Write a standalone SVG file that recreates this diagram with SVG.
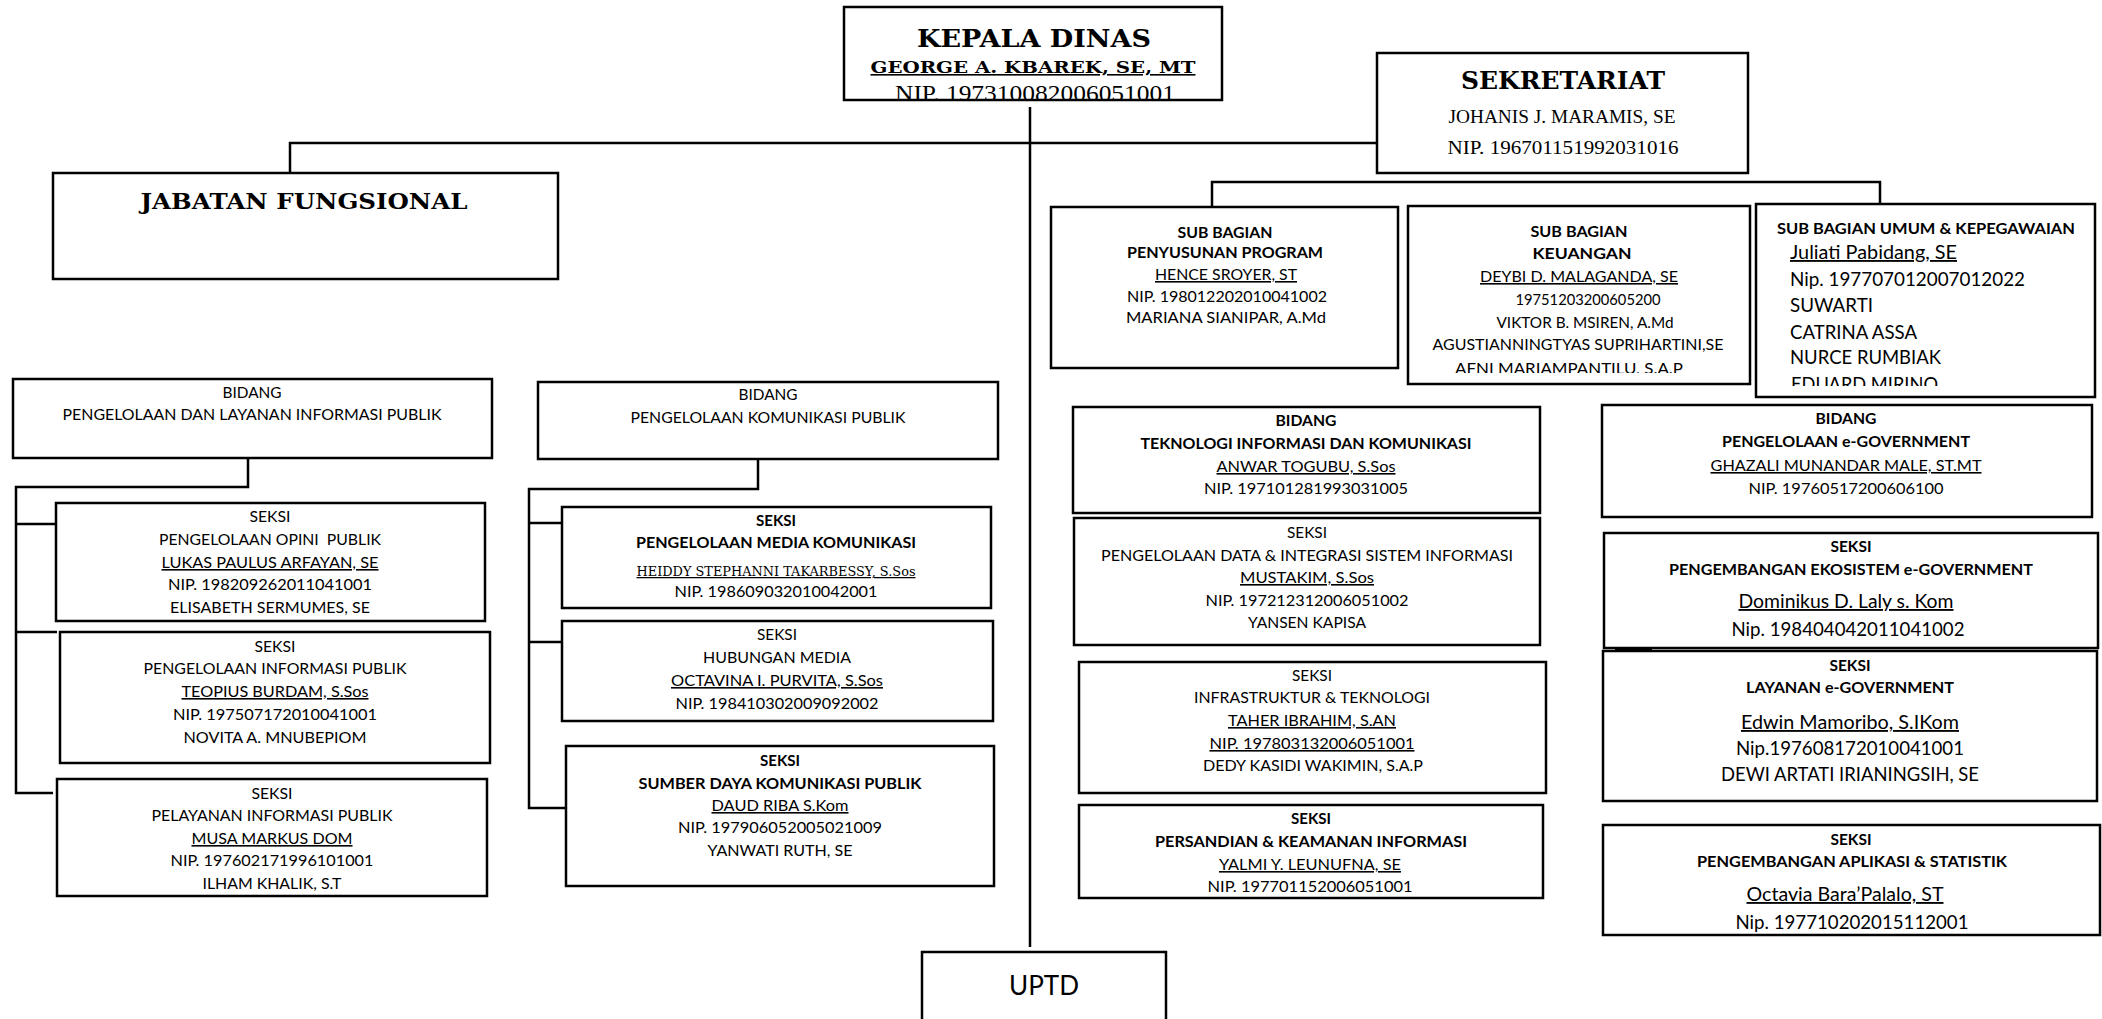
<svg xmlns="http://www.w3.org/2000/svg" width="2102" height="1019" viewBox="0 0 2102 1019">
<style>
.bx{fill:#fff;stroke:#000;stroke-width:2.5}
.ln{fill:none;stroke:#000;stroke-width:2.5}
text{fill:#000}
.t{font-family:Lato,"Open Sans","Liberation Sans",sans-serif;font-size:16px;text-anchor:middle}
.tl{font-family:Lato,"Open Sans","Liberation Sans",sans-serif;font-size:18.5px;text-anchor:start}
.t.big{font-size:18.5px}
.t.huge{font-size:26px}
.tl.small{font-size:16px}
.b{font-weight:bold}
.u{text-decoration:underline}
.sb{font-family:"DejaVu Serif","Liberation Serif",serif;font-weight:bold;text-anchor:middle}
.sr{font-family:"Liberation Serif","DejaVu Serif",serif;text-anchor:middle}
.hd{font-family:"DejaVu Serif","Liberation Serif",serif;font-size:12.5px;text-anchor:middle}
</style>
<defs>
<clipPath id="cpK"><rect x="844" y="8" width="378" height="92"/></clipPath>
<clipPath id="cpKeu"><rect x="1409" y="207" width="340" height="166"/></clipPath>
<clipPath id="cpUm"><rect x="1757" y="205" width="337" height="181"/></clipPath>
</defs>
<rect width="2102" height="1019" fill="#fff"/>

<g id="connectors">
<polyline class="ln" points="290,173 290,143 1378,143"/>
<line class="ln" x1="1030" y1="107" x2="1030" y2="947"/>
<polyline class="ln" points="1212,207 1212,182 1880,182 1880,204"/>
<polyline class="ln" points="248,458 248,487 16,487 16,793 53,793"/>
<line class="ln" x1="16" y1="524" x2="57" y2="524"/>
<line class="ln" x1="16" y1="632" x2="57" y2="632"/>
<polyline class="ln" points="758,459 758,489 529,489 529,808 566,808"/>
<line class="ln" x1="529" y1="523" x2="562" y2="523"/>
<line class="ln" x1="529" y1="642" x2="562" y2="642"/>
<line x1="1615" y1="650" x2="1652" y2="650" stroke="#000" stroke-width="3.5"/>
</g>

<g id="kepala-dinas">
<rect class="bx" x="844" y="7" width="378" height="93"/>
<text class="sb" x="1034" y="47" font-size="24" textLength="234" lengthAdjust="spacingAndGlyphs">KEPALA DINAS</text>
<text class="sb u" x="1033" y="73" font-size="16" textLength="325" lengthAdjust="spacingAndGlyphs">GEORGE A. KBAREK, SE, MT</text>
<text class="sr" x="1035" y="101" font-size="24" textLength="280" lengthAdjust="spacingAndGlyphs" clip-path="url(#cpK)">NIP. 197310082006051001</text>
</g>

<g id="sekretariat">
<rect class="bx" x="1377" y="53" width="371" height="120"/>
<text class="sb" x="1563" y="89" font-size="25" textLength="204" lengthAdjust="spacingAndGlyphs">SEKRETARIAT</text>
<text class="sr" x="1562" y="123" font-size="19" textLength="227" lengthAdjust="spacingAndGlyphs">JOHANIS J. MARAMIS, SE</text>
<text class="sr" x="1563" y="154" font-size="19" textLength="231" lengthAdjust="spacingAndGlyphs">NIP. 196701151992031016</text>
</g>

<g id="jabatan-fungsional">
<rect class="bx" x="53" y="173" width="505" height="106"/>
<text class="sb" x="304" y="209" font-size="23" textLength="327" lengthAdjust="spacingAndGlyphs">JABATAN FUNGSIONAL</text>
</g>

<g id="sub-penyusunan">
<rect class="bx" x="1051" y="207" width="347" height="161"/>
<text class="t b" x="1225" y="238" textLength="95" lengthAdjust="spacingAndGlyphs">SUB BAGIAN</text>
<text class="t b" x="1225" y="258" textLength="196" lengthAdjust="spacingAndGlyphs">PENYUSUNAN PROGRAM</text>
<text class="t u" x="1226" y="280" textLength="142" lengthAdjust="spacingAndGlyphs">HENCE SROYER, ST</text>
<text class="t" x="1227" y="302" textLength="200" lengthAdjust="spacingAndGlyphs">NIP. 198012202010041002</text>
<text class="t" x="1226" y="323" textLength="200" lengthAdjust="spacingAndGlyphs">MARIANA SIANIPAR, A.Md</text>
</g>

<g id="sub-keuangan">
<rect class="bx" x="1408" y="206" width="342" height="178"/>
<g clip-path="url(#cpKeu)">
<text class="t b" x="1579" y="237" textLength="97" lengthAdjust="spacingAndGlyphs">SUB BAGIAN</text>
<text class="t b" x="1582" y="259" textLength="99" lengthAdjust="spacingAndGlyphs">KEUANGAN</text>
<text class="t u" x="1579" y="282" textLength="198" lengthAdjust="spacingAndGlyphs">DEYBI D. MALAGANDA, SE</text>
<text class="t" x="1588" y="305" textLength="145" lengthAdjust="spacingAndGlyphs">19751203200605200</text>
<text class="t" x="1585" y="328" textLength="177" lengthAdjust="spacingAndGlyphs">VIKTOR B. MSIREN, A.Md</text>
<text class="t" x="1578" y="350" textLength="291" lengthAdjust="spacingAndGlyphs">AGUSTIANNINGTYAS SUPRIHARTINI,SE</text>
<text class="t" x="1569" y="374" textLength="228" lengthAdjust="spacingAndGlyphs">AFNI MARIAMPANTILU, S.A.P</text>
</g>
</g>

<g id="sub-umum">
<rect class="bx" x="1756" y="204" width="339" height="193"/>
<text class="tl small b" x="1777" y="234" textLength="298" lengthAdjust="spacingAndGlyphs">SUB BAGIAN UMUM &amp; KEPEGAWAIAN</text>
<g clip-path="url(#cpUm)">
<text class="tl u" x="1790" y="259" textLength="167" lengthAdjust="spacingAndGlyphs">Juliati Pabidang, SE</text>
<text class="tl" x="1790" y="286" textLength="235" lengthAdjust="spacingAndGlyphs">Nip. 197707012007012022</text>
<text class="tl" x="1790" y="312" textLength="83" lengthAdjust="spacingAndGlyphs">SUWARTI</text>
<text class="tl" x="1790" y="339" textLength="127" lengthAdjust="spacingAndGlyphs">CATRINA ASSA</text>
<text class="tl" x="1790" y="364" textLength="151" lengthAdjust="spacingAndGlyphs">NURCE RUMBIAK</text>
<text class="tl" x="1791" y="391" textLength="147" lengthAdjust="spacingAndGlyphs">EDUARD MIRINO</text>
</g>
</g>

<g id="bidang-plip">
<rect class="bx" x="13" y="379" width="479" height="79"/>
<text class="t" x="252" y="398" textLength="59" lengthAdjust="spacingAndGlyphs">BIDANG</text>
<text class="t" x="252" y="420" textLength="379" lengthAdjust="spacingAndGlyphs">PENGELOLAAN DAN LAYANAN INFORMASI PUBLIK</text>
</g>

<g id="seksi-opini">
<rect class="bx" x="56" y="503" width="429" height="118"/>
<text class="t" x="270" y="522" textLength="41" lengthAdjust="spacingAndGlyphs">SEKSI</text>
<text class="t" x="270" y="545" textLength="222" lengthAdjust="spacingAndGlyphs" xml:space="preserve">PENGELOLAAN OPINI  PUBLIK</text>
<text class="t u" x="270" y="568" textLength="217" lengthAdjust="spacingAndGlyphs">LUKAS PAULUS ARFAYAN, SE</text>
<text class="t" x="270" y="590" textLength="204" lengthAdjust="spacingAndGlyphs">NIP. 198209262011041001</text>
<text class="t" x="270" y="613" textLength="200" lengthAdjust="spacingAndGlyphs">ELISABETH SERMUMES, SE</text>
</g>

<g id="seksi-informasi">
<rect class="bx" x="60" y="632" width="430" height="131"/>
<text class="t" x="275" y="652" textLength="41" lengthAdjust="spacingAndGlyphs">SEKSI</text>
<text class="t" x="275" y="674" textLength="263" lengthAdjust="spacingAndGlyphs">PENGELOLAAN INFORMASI PUBLIK</text>
<text class="t u" x="275" y="697" textLength="187" lengthAdjust="spacingAndGlyphs">TEOPIUS BURDAM, S.Sos</text>
<text class="t" x="275" y="720" textLength="204" lengthAdjust="spacingAndGlyphs">NIP. 197507172010041001</text>
<text class="t" x="275" y="743" textLength="183" lengthAdjust="spacingAndGlyphs">NOVITA A. MNUBEPIOM</text>
</g>

<g id="seksi-pelayanan">
<rect class="bx" x="57" y="779" width="430" height="117"/>
<text class="t" x="272" y="799" textLength="41" lengthAdjust="spacingAndGlyphs">SEKSI</text>
<text class="t" x="272" y="821" textLength="241" lengthAdjust="spacingAndGlyphs">PELAYANAN INFORMASI PUBLIK</text>
<text class="t u" x="272" y="844" textLength="161" lengthAdjust="spacingAndGlyphs">MUSA MARKUS DOM</text>
<text class="t" x="272" y="866" textLength="203" lengthAdjust="spacingAndGlyphs">NIP. 197602171996101001</text>
<text class="t" x="272" y="889" textLength="139" lengthAdjust="spacingAndGlyphs">ILHAM KHALIK, S.T</text>
</g>

<g id="bidang-pkp">
<rect class="bx" x="538" y="382" width="460" height="77"/>
<text class="t" x="768" y="400" textLength="59" lengthAdjust="spacingAndGlyphs">BIDANG</text>
<text class="t" x="768" y="423" textLength="275" lengthAdjust="spacingAndGlyphs">PENGELOLAAN KOMUNIKASI PUBLIK</text>
</g>

<g id="seksi-media-komunikasi">
<rect class="bx" x="562" y="507" width="429" height="101"/>
<text class="t b" x="776" y="526" textLength="40" lengthAdjust="spacingAndGlyphs">SEKSI</text>
<text class="t b" x="776" y="548" textLength="280" lengthAdjust="spacingAndGlyphs">PENGELOLAAN MEDIA KOMUNIKASI</text>
<text class="hd u" x="776" y="576" textLength="279" lengthAdjust="spacingAndGlyphs">HEIDDY STEPHANNI TAKARBESSY, S.Sos</text>
<text class="t" x="776" y="597" textLength="203" lengthAdjust="spacingAndGlyphs">NIP. 198609032010042001</text>
</g>

<g id="seksi-hubungan-media">
<rect class="bx" x="562" y="621" width="431" height="100"/>
<text class="t" x="777" y="640" textLength="40" lengthAdjust="spacingAndGlyphs">SEKSI</text>
<text class="t" x="777" y="663" textLength="148" lengthAdjust="spacingAndGlyphs">HUBUNGAN MEDIA</text>
<text class="t u" x="777" y="686" textLength="212" lengthAdjust="spacingAndGlyphs">OCTAVINA I. PURVITA, S.Sos</text>
<text class="t" x="777" y="709" textLength="203" lengthAdjust="spacingAndGlyphs">NIP. 198410302009092002</text>
</g>

<g id="seksi-sumber-daya">
<rect class="bx" x="566" y="746" width="428" height="140"/>
<text class="t b" x="780" y="766" textLength="40" lengthAdjust="spacingAndGlyphs">SEKSI</text>
<text class="t b" x="780" y="789" textLength="283" lengthAdjust="spacingAndGlyphs">SUMBER DAYA KOMUNIKASI PUBLIK</text>
<text class="t u" x="780" y="811" textLength="137" lengthAdjust="spacingAndGlyphs">DAUD RIBA S.Kom</text>
<text class="t" x="780" y="833" textLength="204" lengthAdjust="spacingAndGlyphs">NIP. 197906052005021009</text>
<text class="t" x="780" y="856" textLength="145" lengthAdjust="spacingAndGlyphs">YANWATI RUTH, SE</text>
</g>

<g id="bidang-tik">
<rect class="bx" x="1073" y="407" width="467" height="106"/>
<text class="t b" x="1306" y="426" textLength="61" lengthAdjust="spacingAndGlyphs">BIDANG</text>
<text class="t b" x="1306" y="449" textLength="331" lengthAdjust="spacingAndGlyphs">TEKNOLOGI INFORMASI DAN KOMUNIKASI</text>
<text class="t u" x="1306" y="472" textLength="179" lengthAdjust="spacingAndGlyphs">ANWAR TOGUBU, S.Sos</text>
<text class="t" x="1306" y="494" textLength="204" lengthAdjust="spacingAndGlyphs">NIP. 197101281993031005</text>
</g>

<g id="seksi-data">
<rect class="bx" x="1074" y="518" width="466" height="127"/>
<text class="t" x="1307" y="538" textLength="40" lengthAdjust="spacingAndGlyphs">SEKSI</text>
<text class="t" x="1307" y="561" textLength="412" lengthAdjust="spacingAndGlyphs">PENGELOLAAN DATA &amp; INTEGRASI SISTEM INFORMASI</text>
<text class="t u" x="1307" y="583" textLength="134" lengthAdjust="spacingAndGlyphs">MUSTAKIM, S.Sos</text>
<text class="t" x="1307" y="606" textLength="203" lengthAdjust="spacingAndGlyphs">NIP. 197212312006051002</text>
<text class="t" x="1307" y="628" textLength="118" lengthAdjust="spacingAndGlyphs">YANSEN KAPISA</text>
</g>

<g id="seksi-infrastruktur">
<rect class="bx" x="1079" y="662" width="467" height="131"/>
<text class="t" x="1312" y="681" textLength="40" lengthAdjust="spacingAndGlyphs">SEKSI</text>
<text class="t" x="1312" y="703" textLength="236" lengthAdjust="spacingAndGlyphs">INFRASTRUKTUR &amp; TEKNOLOGI</text>
<text class="t u" x="1312" y="726" textLength="168" lengthAdjust="spacingAndGlyphs">TAHER IBRAHIM, S.AN</text>
<text class="t u" x="1312" y="749" textLength="205" lengthAdjust="spacingAndGlyphs">NIP. 197803132006051001</text>
<text class="t" x="1313" y="771" textLength="220" lengthAdjust="spacingAndGlyphs">DEDY KASIDI WAKIMIN, S.A.P</text>
</g>

<g id="seksi-persandian">
<rect class="bx" x="1079" y="805" width="464" height="93"/>
<text class="t b" x="1311" y="824" textLength="40" lengthAdjust="spacingAndGlyphs">SEKSI</text>
<text class="t b" x="1311" y="847" textLength="312" lengthAdjust="spacingAndGlyphs">PERSANDIAN &amp; KEAMANAN INFORMASI</text>
<text class="t u" x="1310" y="870" textLength="182" lengthAdjust="spacingAndGlyphs">YALMI Y. LEUNUFNA, SE</text>
<text class="t" x="1310" y="892" textLength="205" lengthAdjust="spacingAndGlyphs">NIP. 197701152006051001</text>
</g>

<g id="bidang-egov">
<rect class="bx" x="1602" y="405" width="490" height="112"/>
<text class="t b" x="1846" y="424" textLength="61" lengthAdjust="spacingAndGlyphs">BIDANG</text>
<text class="t b" x="1846" y="447" textLength="248" lengthAdjust="spacingAndGlyphs">PENGELOLAAN e-GOVERNMENT</text>
<text class="t u" x="1846" y="471" textLength="271" lengthAdjust="spacingAndGlyphs">GHAZALI MUNANDAR MALE, ST.MT</text>
<text class="t" x="1846" y="494" textLength="195" lengthAdjust="spacingAndGlyphs">NIP. 19760517200606100</text>
</g>

<g id="seksi-ekosistem">
<rect class="bx" x="1604" y="533" width="494" height="115"/>
<text class="t b" x="1851" y="552" textLength="41" lengthAdjust="spacingAndGlyphs">SEKSI</text>
<text class="t b" x="1851" y="575" textLength="364" lengthAdjust="spacingAndGlyphs">PENGEMBANGAN EKOSISTEM e-GOVERNMENT</text>
<text class="t big u" x="1846" y="608" textLength="215" lengthAdjust="spacingAndGlyphs">Dominikus D. Laly s. Kom</text>
<text class="t big" x="1848" y="636" textLength="233" lengthAdjust="spacingAndGlyphs">Nip. 198404042011041002</text>
</g>

<g id="seksi-layanan">
<rect class="bx" x="1603" y="651" width="494" height="150"/>
<text class="t b" x="1850" y="671" textLength="41" lengthAdjust="spacingAndGlyphs">SEKSI</text>
<text class="t b" x="1850" y="693" textLength="208" lengthAdjust="spacingAndGlyphs">LAYANAN e-GOVERNMENT</text>
<text class="t big u" x="1850" y="729" textLength="218" lengthAdjust="spacingAndGlyphs">Edwin Mamoribo, S.IKom</text>
<text class="t big" x="1850" y="755" textLength="228" lengthAdjust="spacingAndGlyphs">Nip.197608172010041001</text>
<text class="t big" x="1850" y="781" textLength="258" lengthAdjust="spacingAndGlyphs">DEWI ARTATI IRIANINGSIH, SE</text>
</g>

<g id="seksi-aplikasi">
<rect class="bx" x="1603" y="825" width="497" height="110"/>
<text class="t b" x="1851" y="845" textLength="41" lengthAdjust="spacingAndGlyphs">SEKSI</text>
<text class="t b" x="1852" y="867" textLength="310" lengthAdjust="spacingAndGlyphs">PENGEMBANGAN APLIKASI &amp; STATISTIK</text>
<text class="t big u" x="1845" y="901" textLength="197" lengthAdjust="spacingAndGlyphs">Octavia Bara’Palalo, ST</text>
<text class="t big" x="1852" y="929" textLength="233" lengthAdjust="spacingAndGlyphs">Nip. 197710202015112001</text>
</g>

<g id="uptd">
<rect class="bx" x="922" y="952" width="244" height="80"/>
<text class="t huge" x="1044" y="995" textLength="70" lengthAdjust="spacingAndGlyphs">UPTD</text>
</g>
</svg>
